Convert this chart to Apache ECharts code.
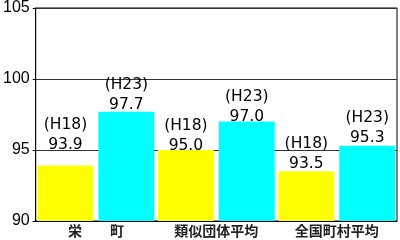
<!DOCTYPE html>
<html>
<head>
<meta charset="utf-8">
<script src="https://cdn.jsdelivr.net/npm/echarts@6/dist/echarts.min.js"></script>
<style>
  html, body { margin: 0; padding: 0; background: #fff; }
  #chart { width: 400px; height: 240px; }
</style>
</head>
<body>
<div id="chart"></div>
<script>
// Group labels along the bottom
const categories = ['栄　　町', '類似団体平均', '全国町村平均'];
// Ratio values for each fiscal year
const valuesH18 = [93.9, 95.0, 93.5];
const valuesH23 = [97.7, 97.0, 95.3];
const seriesNames = ['H18', 'H23'];
// Value axis range
const yMin = 90;
const yMax = 105;
const yStep = 5;

// Vertical nudges (px) for the value labels so they clear the grid lines
const labelNudgeH18 = [-10.5, 5.5, 2.5];
const labelNudgeH23 = [3.5, 5.5, 2.5];

const chart = echarts.init(document.getElementById('chart'), null, { renderer: 'canvas' });

function barData(values, nudges) {
  return values.map((v, i) => ({ value: v, label: { offset: [0, nudges[i]] } }));
}

function barLabel(year) {
  return {
    show: true,
    position: 'top',
    distance: 0,
    color: '#000',
    fontFamily: 'DejaVu Sans, sans-serif',
    fontSize: 15.5,
    lineHeight: 20,
    formatter: p => '(' + year + ')\n' + Number(p.value).toFixed(1)
  };
}

chart.setOption({
  animation: false,
  backgroundColor: '#fff',
  grid: {
    left: 34, right: 3, top: 8, bottom: 19,
    show: true, borderColor: '#000', borderWidth: 1
  },
  xAxis: {
    type: 'category',
    data: categories,
    axisLine: { lineStyle: { color: '#000', width: 1 } },
    axisTick: { show: false },
    axisLabel: {
      color: '#222',
      fontFamily: 'Noto Sans CJK JP',
      fontWeight: 'bold',
      fontSize: 14,
      margin: 3
    }
  },
  yAxis: {
    type: 'value',
    min: yMin, max: yMax, interval: yStep,
    axisLine: { show: true, lineStyle: { color: '#000', width: 1 } },
    axisTick: { show: true, length: 3, lineStyle: { color: '#000' } },
    axisLabel: {
      color: '#000',
      fontFamily: 'Liberation Sans, Arial, sans-serif',
      fontSize: 16,
      margin: 6
    },
    splitLine: { show: true, lineStyle: { color: '#333', width: 1 } }
  },
  series: [
    {
      name: seriesNames[0], type: 'bar', data: barData(valuesH18, labelNudgeH18),
      itemStyle: { color: '#ffff00' },
      barGap: '9%', barCategoryGap: '3%',
      label: barLabel(seriesNames[0])
    },
    {
      name: seriesNames[1], type: 'bar', data: barData(valuesH23, labelNudgeH23),
      itemStyle: { color: '#00ffff' },
      barGap: '9%', barCategoryGap: '3%',
      label: barLabel(seriesNames[1])
    }
  ]
});
</script>
</body>
</html>
